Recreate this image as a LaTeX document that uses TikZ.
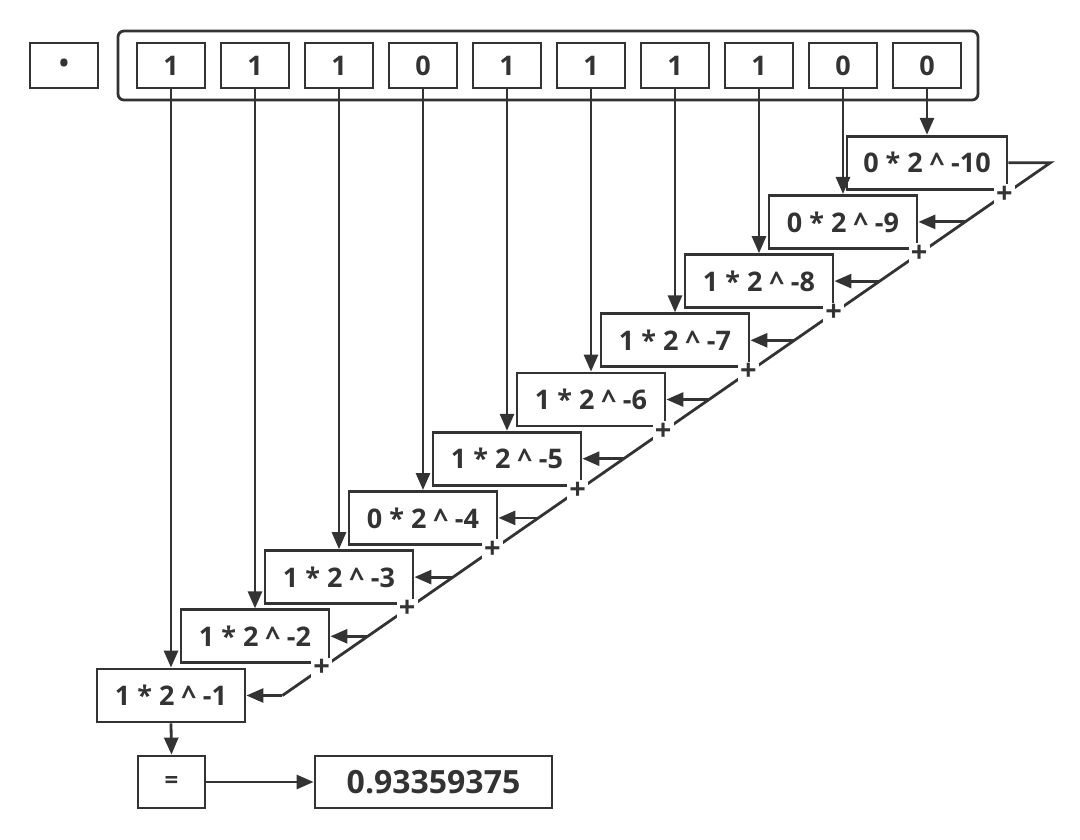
\documentclass[tikz,border=0pt]{standalone}
\usepackage{fontspec}
\setmainfont{Open Sans}
\usetikzlibrary{arrows.meta,calc}
\definecolor{ink}{HTML}{333333}
\begin{document}
\begin{tikzpicture}[x=1pt,y=-1pt,color=ink,line width=2.8pt,
  bitbox/.style={draw,minimum width=68pt,minimum height=45pt,inner sep=0pt,font=\bfseries\fontsize{27}{30}\selectfont},
  prod/.style={draw,fill=white,minimum width=148pt,minimum height=53pt,inner sep=0pt,font=\bfseries\fontsize{27}{30}\selectfont},
  arr/.style={-{Triangle[length=17pt,width=14pt]}},
  plus/.style={fill=white,inner sep=0pt,minimum size=21pt,font=\bfseries\fontsize{29}{29}\selectfont},
  reg/.style={draw,rounded corners=6pt,minimum width=860pt,minimum height=69pt,inner sep=0pt}]
\useasboundingbox (0,0) rectangle (1080,840);
% top row
\node[bitbox,font=\bfseries\fontsize{26}{28}\selectfont] (dot) at (64,65.5) {•};
\node[reg] (register) at (548,65.5) {};
\foreach \b [count=\k] in {1,1,1,0,1,1,1,1,0,0}{
  \node[bitbox] (bit\k) at ({171+84*(\k-1)},65.5) {\b};
}
% product boxes
\foreach \b [count=\k] in {1,1,1,0,1,1,1,1,0}{
  \node[prod] (p\k) at ({171+84*(\k-1)},{695.5-59.2*(\k-1)}) {\b\ * 2 \textasciicircum\ -\k};
}
\node[prod,minimum width=160pt] (p10) at (927,{695.5-59.2*9}) {0 * 2 \textasciicircum\ -10};
% vertical arrows
\foreach \k in {1,...,10}{
  \draw[arr] (bit\k.south) -- (p\k.north);
}
% summation diagonal
\coordinate (dt) at ($(p10.east)+(42,0)$);
\coordinate (db) at ($(p1.east)+(36,0)$);
\draw (p10.east) -- (dt) -- (db);
\draw[arr] (db) -- (p1.east);
\foreach \k in {2,...,9}{
  \coordinate (e\k) at ($(p\k.east)+(10,0)$);
  \coordinate (a\k) at (intersection cs: first line={(dt)--(db)}, second line={(p\k.east)--(e\k)});
  \draw[arr] (a\k) -- (p\k.east);
}
\foreach \k in {2,...,10}{
  \coordinate (s\k) at ($(p\k.south east)+(0,4)$);
  \coordinate (t\k) at ($(s\k)+(10,0)$);
  \node[plus] (plus\k) at (intersection cs: first line={(dt)--(db)}, second line={(s\k)--(t\k)}) {+};
}
% result
\node[draw,minimum width=67pt,minimum height=52pt,inner sep=0pt,font=\bfseries\fontsize{24}{26}\selectfont] (eq) at (171.5,782) {=};
\node[draw,minimum width=237pt,minimum height=52pt,inner sep=0pt,font=\bfseries\fontsize{32}{34}\selectfont] (res) at (433.5,782) {0.93359375};
\draw[arr] (p1.south) -- (eq.north);
\draw[arr] (eq.east) -- (res.west);
\end{tikzpicture}
\end{document}
